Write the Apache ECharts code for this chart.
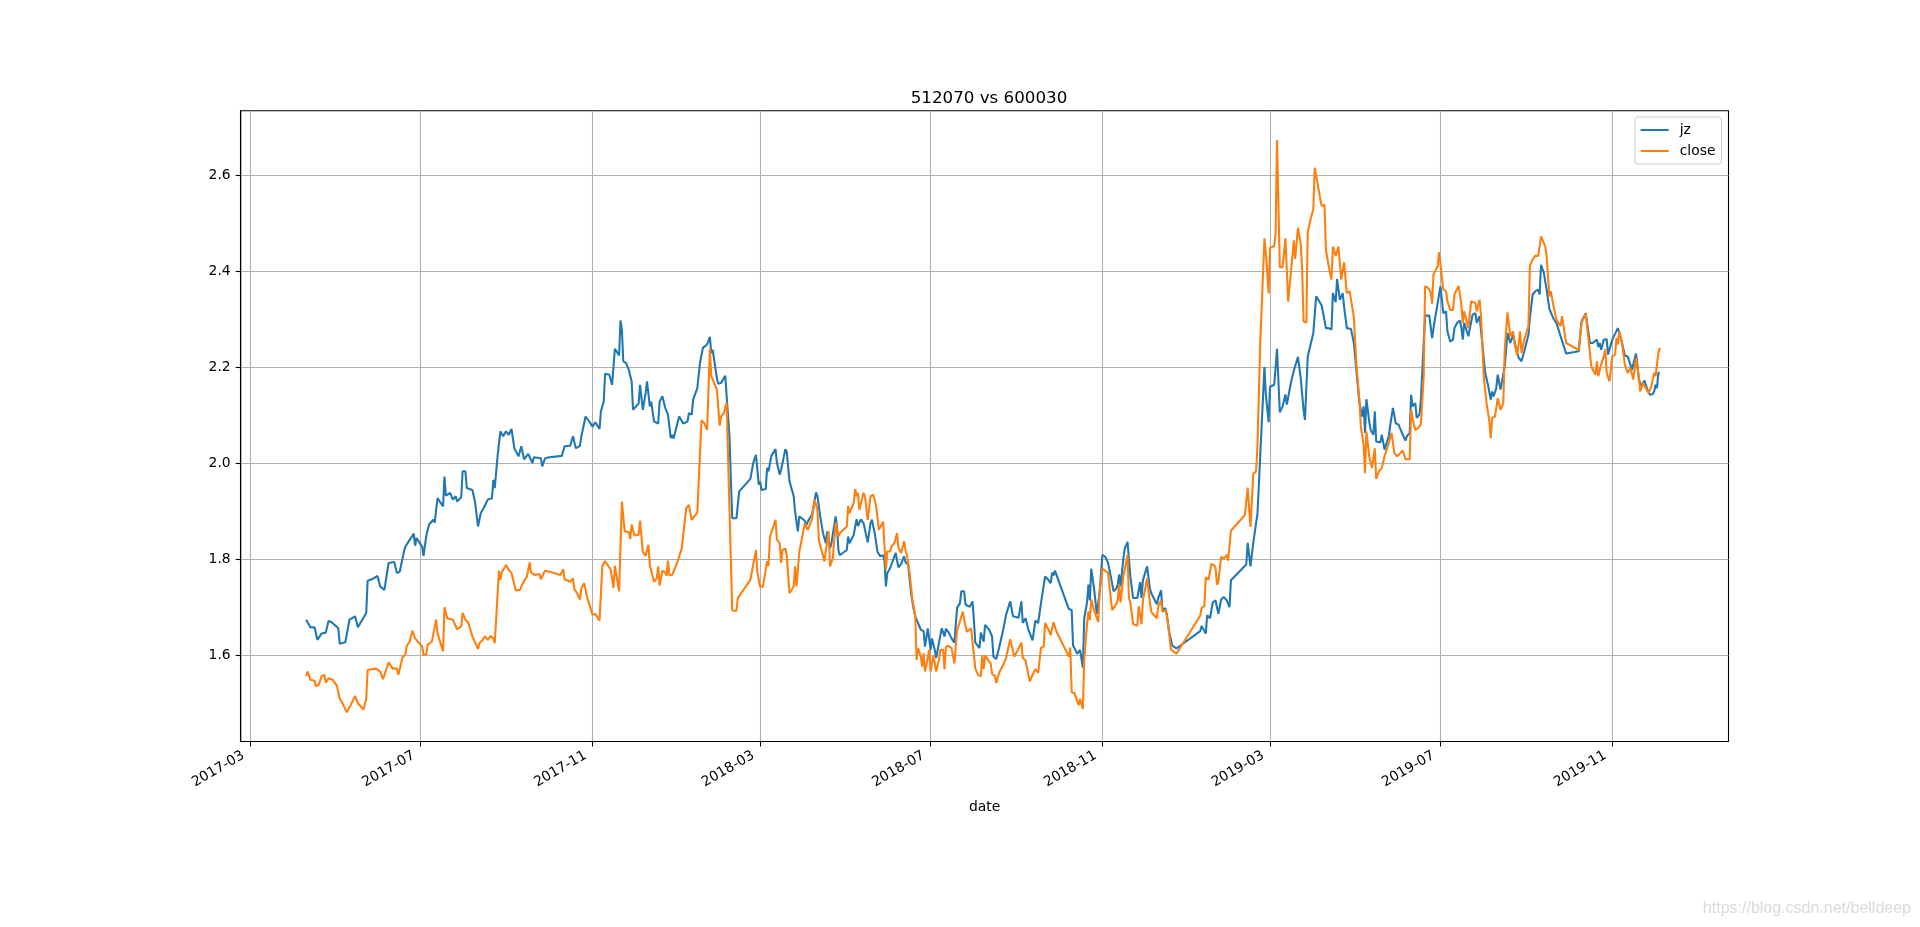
<!DOCTYPE html>
<html>
<head>
<meta charset="utf-8">
<title>512070 vs 600030</title>
<script src="https://cdn.jsdelivr.net/npm/echarts@6/dist/echarts.min.js"></script>
<style>
  html, body { margin: 0; padding: 0; background: #fff; }
  #main { width: 1920px; height: 927px; }
</style>
</head>
<body>
<div id="main"></div>
<script>
// jz (net value), [date, value]
var jz = [
  ['2017-04-10', 1.674], ['2017-04-11', 1.678], ['2017-04-13', 1.658], ['2017-04-16', 1.658], ['2017-04-18', 1.632],
  ['2017-04-19', 1.630], ['2017-04-21', 1.645], ['2017-04-24', 1.647], ['2017-04-26', 1.671], ['2017-04-28', 1.669],
  ['2017-05-03', 1.656], ['2017-05-04', 1.624], ['2017-05-08', 1.627], ['2017-05-11', 1.674], ['2017-05-15', 1.681],
  ['2017-05-17', 1.658], ['2017-05-23', 1.688], ['2017-05-24', 1.755], ['2017-05-27', 1.758], ['2017-05-31', 1.765],
  ['2017-06-02', 1.743], ['2017-06-05', 1.736], ['2017-06-08', 1.792], ['2017-06-12', 1.794], ['2017-06-14', 1.771],
  ['2017-06-16', 1.774], ['2017-06-19', 1.816], ['2017-06-20', 1.826], ['2017-06-26', 1.853], ['2017-06-27', 1.828],
  ['2017-06-28', 1.844], ['2017-07-02', 1.826], ['2017-07-03', 1.807], ['2017-07-05', 1.849], ['2017-07-07', 1.872],
  ['2017-07-10', 1.882], ['2017-07-11', 1.876], ['2017-07-13', 1.927], ['2017-07-17', 1.910], ['2017-07-18', 1.972],
  ['2017-07-19', 1.932], ['2017-07-22', 1.938], ['2017-07-24', 1.924], ['2017-07-26', 1.931], ['2017-07-27', 1.920],
  ['2017-07-30', 1.929], ['2017-07-31', 1.983], ['2017-08-02', 1.983], ['2017-08-03', 1.948], ['2017-08-07', 1.944],
  ['2017-08-09', 1.917], ['2017-08-11', 1.868], ['2017-08-13', 1.896], ['2017-08-15', 1.906], ['2017-08-18', 1.924],
  ['2017-08-21', 1.927], ['2017-08-22', 1.965], ['2017-08-23', 1.948], ['2017-08-25', 2.014], ['2017-08-27', 2.066],
  ['2017-08-29', 2.056], ['2017-08-31', 2.066], ['2017-09-02', 2.059], ['2017-09-04', 2.071], ['2017-09-06', 2.031],
  ['2017-09-09', 2.014], ['2017-09-11', 2.035], ['2017-09-13', 2.008], ['2017-09-16', 2.019], ['2017-09-19', 2.000],
  ['2017-09-20', 2.012], ['2017-09-25', 2.010], ['2017-09-26', 1.993], ['2017-09-28', 2.010], ['2017-10-01', 2.012],
  ['2017-10-10', 2.015], ['2017-10-12', 2.035], ['2017-10-16', 2.036], ['2017-10-18', 2.056], ['2017-10-20', 2.031],
  ['2017-10-23', 2.036], ['2017-10-24', 2.056], ['2017-10-27', 2.097], ['2017-10-30', 2.085], ['2017-11-01', 2.076],
  ['2017-11-03', 2.085], ['2017-11-06', 2.071], ['2017-11-07', 2.108], ['2017-11-09', 2.128], ['2017-11-10', 2.186],
  ['2017-11-13', 2.184], ['2017-11-15', 2.163], ['2017-11-17', 2.238], ['2017-11-20', 2.224], ['2017-11-21', 2.297],
  ['2017-11-22', 2.278], ['2017-11-23', 2.212], ['2017-11-25', 2.208], ['2017-11-27', 2.194], ['2017-11-29', 2.170],
  ['2017-11-30', 2.111], ['2017-12-04', 2.124], ['2017-12-05', 2.163], ['2017-12-07', 2.111], ['2017-12-09', 2.146],
  ['2017-12-10', 2.170], ['2017-12-12', 2.118], ['2017-12-13', 2.128], ['2017-12-15', 2.087], ['2017-12-18', 2.082],
  ['2017-12-19', 2.128], ['2017-12-20', 2.125], ['2017-12-21', 2.139], ['2017-12-23', 2.115], ['2017-12-25', 2.101],
  ['2017-12-27', 2.052], ['2017-12-28', 2.059], ['2017-12-29', 2.051], ['2018-01-02', 2.097], ['2018-01-05', 2.082],
  ['2018-01-08', 2.087], ['2018-01-09', 2.104], ['2018-01-11', 2.101], ['2018-01-12', 2.132], ['2018-01-15', 2.156],
  ['2018-01-17', 2.210], ['2018-01-19', 2.240], ['2018-01-22', 2.247], ['2018-01-24', 2.263], ['2018-01-25', 2.229],
  ['2018-01-26', 2.236], ['2018-01-29', 2.177], ['2018-01-30', 2.165], ['2018-02-01', 2.167], ['2018-02-04', 2.182],
  ['2018-02-05', 2.184], ['2018-02-07', 2.056], ['2018-02-09', 1.885], ['2018-02-12', 1.885], ['2018-02-14', 1.941],
  ['2018-02-22', 1.967], ['2018-02-24', 2.000], ['2018-02-26', 2.017], ['2018-02-28', 1.955], ['2018-03-01', 1.962],
  ['2018-03-02', 1.944], ['2018-03-05', 1.946], ['2018-03-06', 1.990], ['2018-03-07', 1.983], ['2018-03-09', 2.015],
  ['2018-03-12', 2.029], ['2018-03-13', 2.000], ['2018-03-15', 1.976], ['2018-03-16', 1.986], ['2018-03-17', 2.000],
  ['2018-03-19', 2.029], ['2018-03-20', 2.024], ['2018-03-22', 1.962], ['2018-03-25', 1.931], ['2018-03-26', 1.899],
  ['2018-03-27', 1.903], ['2018-03-28', 1.858], ['2018-03-29', 1.889], ['2018-04-02', 1.880], ['2018-04-03', 1.871],
  ['2018-04-05', 1.883], ['2018-04-07', 1.892], ['2018-04-08', 1.906], ['2018-04-10', 1.939], ['2018-04-11', 1.931],
  ['2018-04-13', 1.889], ['2018-04-15', 1.854], ['2018-04-17', 1.833], ['2018-04-18', 1.858], ['2018-04-20', 1.823],
  ['2018-04-21', 1.833], ['2018-04-24', 1.889], ['2018-04-25', 1.868], ['2018-04-26', 1.819], ['2018-04-27', 1.808],
  ['2018-05-02', 1.819], ['2018-05-03', 1.847], ['2018-05-04', 1.833], ['2018-05-07', 1.851], ['2018-05-09', 1.883],
  ['2018-05-10', 1.869], ['2018-05-12', 1.883], ['2018-05-14', 1.875], ['2018-05-17', 1.835], ['2018-05-19', 1.875],
  ['2018-05-20', 1.882], ['2018-05-22', 1.854], ['2018-05-24', 1.815], ['2018-05-26', 1.806], ['2018-05-28', 1.808],
  ['2018-05-29', 1.797], ['2018-05-30', 1.743], ['2018-05-31', 1.771], ['2018-06-02', 1.781], ['2018-06-06', 1.813],
  ['2018-06-07', 1.797], ['2018-06-08', 1.783], ['2018-06-10', 1.790], ['2018-06-12', 1.806], ['2018-06-13', 1.794],
  ['2018-06-15', 1.788], ['2018-06-17', 1.729], ['2018-06-19', 1.694], ['2018-06-20', 1.681], ['2018-06-21', 1.677],
  ['2018-06-24', 1.653], ['2018-06-26', 1.650], ['2018-06-27', 1.618], ['2018-06-28', 1.618], ['2018-06-29', 1.656],
  ['2018-07-01', 1.611], ['2018-07-02', 1.635], ['2018-07-04', 1.611], ['2018-07-05', 1.594], ['2018-07-07', 1.626],
  ['2018-07-09', 1.656], ['2018-07-11', 1.639], ['2018-07-12', 1.655], ['2018-07-14', 1.647], ['2018-07-16', 1.635],
  ['2018-07-18', 1.626], ['2018-07-20', 1.699], ['2018-07-22', 1.708], ['2018-07-23', 1.733], ['2018-07-25', 1.733],
  ['2018-07-26', 1.705], ['2018-07-29', 1.701], ['2018-07-31', 1.712], ['2018-08-01', 1.674], ['2018-08-02', 1.626],
  ['2018-08-05', 1.615], ['2018-08-06', 1.647], ['2018-08-08', 1.628], ['2018-08-09', 1.663], ['2018-08-12', 1.653],
  ['2018-08-14', 1.639], ['2018-08-15', 1.597], ['2018-08-17', 1.592], ['2018-08-19', 1.615], ['2018-08-22', 1.653],
  ['2018-08-24', 1.684], ['2018-08-27', 1.712], ['2018-08-29', 1.681], ['2018-09-02', 1.678], ['2018-09-04', 1.712],
  ['2018-09-05', 1.667], ['2018-09-07', 1.677], ['2018-09-09', 1.653], ['2018-09-12', 1.631], ['2018-09-14', 1.672],
  ['2018-09-16', 1.667], ['2018-09-18', 1.708], ['2018-09-19', 1.710], ['2018-09-21', 1.764], ['2018-09-23', 1.758],
  ['2018-09-25', 1.750], ['2018-09-26', 1.772], ['2018-09-27', 1.766], ['2018-09-28', 1.776], ['2018-10-08', 1.696],
  ['2018-10-10', 1.694], ['2018-10-11', 1.620], ['2018-10-12', 1.616], ['2018-10-14', 1.603], ['2018-10-15', 1.599],
  ['2018-10-16', 1.611], ['2018-10-18', 1.574], ['2018-10-19', 1.677], ['2018-10-21', 1.710], ['2018-10-22', 1.747],
  ['2018-10-23', 1.714], ['2018-10-24', 1.780], ['2018-10-26', 1.739], ['2018-10-28', 1.686], ['2018-10-30', 1.731],
  ['2018-11-01', 1.809], ['2018-11-03', 1.805], ['2018-11-05', 1.793], ['2018-11-07', 1.764], ['2018-11-09', 1.733],
  ['2018-11-11', 1.739], ['2018-11-12', 1.747], ['2018-11-13', 1.768], ['2018-11-14', 1.743], ['2018-11-16', 1.801],
  ['2018-11-17', 1.822], ['2018-11-19', 1.836], ['2018-11-21', 1.764], ['2018-11-23', 1.719], ['2018-11-26', 1.719],
  ['2018-11-28', 1.752], ['2018-11-29', 1.719], ['2018-11-30', 1.756], ['2018-12-03', 1.785], ['2018-12-05', 1.739],
  ['2018-12-06', 1.729], ['2018-12-10', 1.706], ['2018-12-11', 1.719], ['2018-12-13', 1.735], ['2018-12-14', 1.694],
  ['2018-12-16', 1.698], ['2018-12-17', 1.686], ['2018-12-19', 1.645], ['2018-12-21', 1.620], ['2018-12-24', 1.614],
  ['2019-01-10', 1.650], ['2019-01-11', 1.661], ['2019-01-14', 1.645], ['2019-01-15', 1.683], ['2019-01-17', 1.677],
  ['2019-01-19', 1.710], ['2019-01-21', 1.714], ['2019-01-23', 1.686], ['2019-01-25', 1.716], ['2019-01-27', 1.721],
  ['2019-01-29', 1.714], ['2019-01-31', 1.700], ['2019-02-01', 1.756], ['2019-02-12', 1.789], ['2019-02-13', 1.834],
  ['2019-02-15', 1.785], ['2019-02-17', 1.834], ['2019-02-19', 1.875], ['2019-02-20', 1.894], ['2019-02-21', 1.897],
  ['2019-02-25', 2.200], ['2019-02-26', 2.143], ['2019-02-28', 2.085], ['2019-03-01', 2.159], ['2019-03-04', 2.163],
  ['2019-03-05', 2.159], ['2019-03-06', 2.238], ['2019-03-07', 2.238], ['2019-03-08', 2.106], ['2019-03-10', 2.118],
  ['2019-03-12', 2.143], ['2019-03-13', 2.122], ['2019-03-16', 2.168], ['2019-03-18', 2.192], ['2019-03-19', 2.188],
  ['2019-03-21', 2.221], ['2019-03-23', 2.176], ['2019-03-25', 2.111], ['2019-03-26', 2.090], ['2019-03-27', 2.094],
  ['2019-03-28', 2.222], ['2019-04-01', 2.271], ['2019-04-03', 2.347], ['2019-04-05', 2.338], ['2019-04-07', 2.328],
  ['2019-04-08', 2.326], ['2019-04-10', 2.281], ['2019-04-12', 2.281], ['2019-04-14', 2.278], ['2019-04-15', 2.354],
  ['2019-04-17', 2.335], ['2019-04-18', 2.383], ['2019-04-20', 2.340], ['2019-04-22', 2.354], ['2019-04-23', 2.326],
  ['2019-04-25', 2.281], ['2019-04-28', 2.279], ['2019-04-30', 2.250], ['2019-05-02', 2.188], ['2019-05-04', 2.125],
  ['2019-05-06', 2.097], ['2019-05-07', 2.118], ['2019-05-08', 2.063], ['2019-05-09', 2.133], ['2019-05-11', 2.087],
  ['2019-05-12', 2.069], ['2019-05-14', 2.059], ['2019-05-15', 2.108], ['2019-05-16', 2.045], ['2019-05-19', 2.043],
  ['2019-05-20', 2.059], ['2019-05-22', 2.028], ['2019-05-25', 2.056], ['2019-05-26', 2.078], ['2019-05-28', 2.115],
  ['2019-05-30', 2.083], ['2019-06-01', 2.080], ['2019-06-03', 2.066], ['2019-06-04', 2.059], ['2019-06-06', 2.047],
  ['2019-06-07', 2.056], ['2019-06-09', 2.063], ['2019-06-10', 2.142], ['2019-06-11', 2.118], ['2019-06-13', 2.125],
  ['2019-06-14', 2.094], ['2019-06-16', 2.101], ['2019-06-17', 2.132], ['2019-06-20', 2.307], ['2019-06-23', 2.307],
  ['2019-06-25', 2.260], ['2019-06-27', 2.299], ['2019-06-28', 2.316], ['2019-07-01', 2.368], ['2019-07-02', 2.340],
  ['2019-07-03', 2.312], ['2019-07-05', 2.316], ['2019-07-06', 2.274], ['2019-07-08', 2.253], ['2019-07-10', 2.257],
  ['2019-07-11', 2.281], ['2019-07-13', 2.292], ['2019-07-15', 2.297], ['2019-07-16', 2.281], ['2019-07-17', 2.257],
  ['2019-07-18', 2.292], ['2019-07-21', 2.264], ['2019-07-22', 2.267], ['2019-07-24', 2.309], ['2019-07-26', 2.312],
  ['2019-07-27', 2.292], ['2019-07-29', 2.306], ['2019-07-30', 2.278], ['2019-08-02', 2.188], ['2019-08-04', 2.163],
  ['2019-08-06', 2.132], ['2019-08-07', 2.149], ['2019-08-08', 2.139], ['2019-08-10', 2.156], ['2019-08-11', 2.184],
  ['2019-08-13', 2.153], ['2019-08-14', 2.154], ['2019-08-16', 2.201], ['2019-08-18', 2.271], ['2019-08-20', 2.250],
  ['2019-08-22', 2.267], ['2019-08-24', 2.240], ['2019-08-26', 2.219], ['2019-08-28', 2.212], ['2019-08-30', 2.233],
  ['2019-09-02', 2.267], ['2019-09-03', 2.302], ['2019-09-05', 2.351], ['2019-09-07', 2.358], ['2019-09-09', 2.361],
  ['2019-09-10', 2.351], ['2019-09-11', 2.413], ['2019-09-13', 2.396], ['2019-09-15', 2.361], ['2019-09-17', 2.321],
  ['2019-09-18', 2.319], ['2019-09-20', 2.300], ['2019-09-22', 2.292], ['2019-09-23', 2.288], ['2019-09-25', 2.264],
  ['2019-09-26', 2.267], ['2019-09-29', 2.228], ['2019-10-08', 2.233], ['2019-10-10', 2.295], ['2019-10-13', 2.312],
  ['2019-10-14', 2.292], ['2019-10-16', 2.250], ['2019-10-18', 2.250], ['2019-10-21', 2.257], ['2019-10-22', 2.242],
  ['2019-10-23', 2.250], ['2019-10-24', 2.236], ['2019-10-26', 2.257], ['2019-10-28', 2.258], ['2019-10-29', 2.226],
  ['2019-10-30', 2.222], ['2019-11-01', 2.257], ['2019-11-03', 2.269], ['2019-11-05', 2.281], ['2019-11-06', 2.272],
  ['2019-11-08', 2.250], ['2019-11-10', 2.224], ['2019-11-12', 2.222], ['2019-11-14', 2.205], ['2019-11-15', 2.194],
  ['2019-11-18', 2.228], ['2019-11-19', 2.205], ['2019-11-20', 2.174], ['2019-11-22', 2.160], ['2019-11-24', 2.172],
  ['2019-11-26', 2.154], ['2019-11-28', 2.142], ['2019-11-30', 2.144], ['2019-12-01', 2.149], ['2019-12-02', 2.163],
  ['2019-12-03', 2.156], ['2019-12-04', 2.188], ['2019-12-05', 2.188]
];

// close (600030 close, scaled), [date, value]
var close = [
  ['2017-04-10', 1.556], ['2017-04-11', 1.566], ['2017-04-13', 1.549], ['2017-04-16', 1.547], ['2017-04-17', 1.535],
  ['2017-04-19', 1.538], ['2017-04-21', 1.556], ['2017-04-23', 1.559], ['2017-04-24', 1.543], ['2017-04-26', 1.552],
  ['2017-04-29', 1.549], ['2017-05-02', 1.536], ['2017-05-04', 1.510], ['2017-05-06', 1.500], ['2017-05-09', 1.481],
  ['2017-05-12', 1.497], ['2017-05-15', 1.515], ['2017-05-17', 1.500], ['2017-05-18', 1.503], ['2017-05-21', 1.487],
  ['2017-05-23', 1.510], ['2017-05-24', 1.569], ['2017-05-30', 1.572], ['2017-06-02', 1.566], ['2017-06-04', 1.550],
  ['2017-06-08', 1.585], ['2017-06-11', 1.572], ['2017-06-12', 1.568], ['2017-06-14', 1.572], ['2017-06-15', 1.559],
  ['2017-06-18', 1.596], ['2017-06-20', 1.601], ['2017-06-21', 1.619], ['2017-06-23', 1.628], ['2017-06-25', 1.651],
  ['2017-06-27', 1.635], ['2017-06-28', 1.633], ['2017-07-02', 1.618], ['2017-07-03', 1.601], ['2017-07-05', 1.602],
  ['2017-07-06', 1.622], ['2017-07-09', 1.628], ['2017-07-12', 1.674], ['2017-07-13', 1.646], ['2017-07-17', 1.608],
  ['2017-07-18', 1.700], ['2017-07-20', 1.677], ['2017-07-24', 1.674], ['2017-07-25', 1.675], ['2017-07-27', 1.654],
  ['2017-07-30', 1.660], ['2017-07-31', 1.688], ['2017-08-02', 1.674], ['2017-08-04', 1.668], ['2017-08-07', 1.639],
  ['2017-08-08', 1.638], ['2017-08-11', 1.613], ['2017-08-12', 1.625], ['2017-08-14', 1.631], ['2017-08-16', 1.639],
  ['2017-08-18', 1.632], ['2017-08-20', 1.640], ['2017-08-22', 1.635], ['2017-08-23', 1.625], ['2017-08-26', 1.776],
  ['2017-08-27', 1.757], ['2017-08-28', 1.772], ['2017-08-31', 1.788], ['2017-09-02', 1.778], ['2017-09-04', 1.771],
  ['2017-09-07', 1.735], ['2017-09-10', 1.736], ['2017-09-12', 1.749], ['2017-09-15', 1.764], ['2017-09-17', 1.793],
  ['2017-09-18', 1.772], ['2017-09-21', 1.767], ['2017-09-24', 1.769], ['2017-09-25', 1.758], ['2017-09-28', 1.776],
  ['2017-10-01', 1.774], ['2017-10-09', 1.767], ['2017-10-11', 1.779], ['2017-10-12', 1.758], ['2017-10-16', 1.753],
  ['2017-10-18', 1.760], ['2017-10-19', 1.737], ['2017-10-21', 1.729], ['2017-10-23', 1.716], ['2017-10-24', 1.740],
  ['2017-10-26', 1.750], ['2017-10-28', 1.722], ['2017-11-01', 1.684], ['2017-11-03', 1.686], ['2017-11-06', 1.672],
  ['2017-11-08', 1.785], ['2017-11-10', 1.796], ['2017-11-14', 1.778], ['2017-11-16', 1.740], ['2017-11-17', 1.786],
  ['2017-11-20', 1.733], ['2017-11-22', 1.920], ['2017-11-24', 1.858], ['2017-11-27', 1.856], ['2017-11-28', 1.842],
  ['2017-11-29', 1.872], ['2017-12-01', 1.849], ['2017-12-04', 1.851], ['2017-12-05', 1.880], ['2017-12-06', 1.880],
  ['2017-12-07', 1.815], ['2017-12-09', 1.807], ['2017-12-11', 1.830], ['2017-12-12', 1.788], ['2017-12-13', 1.785],
  ['2017-12-15', 1.753], ['2017-12-17', 1.760], ['2017-12-18', 1.785], ['2017-12-19', 1.745], ['2017-12-21', 1.776],
  ['2017-12-23', 1.772], ['2017-12-24', 1.765], ['2017-12-25', 1.797], ['2017-12-26', 1.767], ['2017-12-28', 1.767],
  ['2018-01-01', 1.796], ['2018-01-04', 1.824], ['2018-01-07', 1.906], ['2018-01-09', 1.913], ['2018-01-10', 1.913],
  ['2018-01-11', 1.882], ['2018-01-15', 1.897], ['2018-01-18', 2.089], ['2018-01-20', 2.083], ['2018-01-22', 2.069],
  ['2018-01-23', 2.069], ['2018-01-24', 2.238], ['2018-01-25', 2.181], ['2018-01-28', 2.160], ['2018-01-29', 2.153],
  ['2018-01-31', 2.078], ['2018-02-01', 2.097], ['2018-02-03', 2.104], ['2018-02-05', 2.126], ['2018-02-06', 2.014],
  ['2018-02-09', 1.693], ['2018-02-12', 1.692], ['2018-02-13', 1.719], ['2018-02-22', 1.757], ['2018-02-26', 1.819],
  ['2018-02-27', 1.772], ['2018-03-01', 1.742], ['2018-03-02', 1.743], ['2018-03-03', 1.743], ['2018-03-06', 1.796],
  ['2018-03-07', 1.786], ['2018-03-08', 1.846], ['2018-03-12', 1.882], ['2018-03-13', 1.840], ['2018-03-15', 1.833],
  ['2018-03-16', 1.792], ['2018-03-17', 1.819], ['2018-03-19', 1.822], ['2018-03-20', 1.808], ['2018-03-22', 1.729],
  ['2018-03-25', 1.743], ['2018-03-26', 1.785], ['2018-03-27', 1.743], ['2018-03-29', 1.815], ['2018-04-02', 1.875],
  ['2018-04-04', 1.861], ['2018-04-07', 1.882], ['2018-04-09', 1.924], ['2018-04-11', 1.903], ['2018-04-12', 1.840],
  ['2018-04-16', 1.795], ['2018-04-17', 1.799], ['2018-04-19', 1.858], ['2018-04-20', 1.785], ['2018-04-22', 1.802],
  ['2018-04-24', 1.876], ['2018-04-26', 1.847], ['2018-04-27', 1.854], ['2018-05-02', 1.868], ['2018-05-03', 1.911],
  ['2018-05-04', 1.896], ['2018-05-07', 1.917], ['2018-05-08', 1.946], ['2018-05-09', 1.931], ['2018-05-10', 1.938],
  ['2018-05-11', 1.903], ['2018-05-14', 1.938], ['2018-05-15', 1.931], ['2018-05-17', 1.882], ['2018-05-19', 1.931],
  ['2018-05-21', 1.934], ['2018-05-23', 1.911], ['2018-05-25', 1.861], ['2018-05-26', 1.865], ['2018-05-28', 1.878],
  ['2018-05-30', 1.778], ['2018-05-31', 1.816], ['2018-06-02', 1.816], ['2018-06-03', 1.826], ['2018-06-05', 1.833],
  ['2018-06-07', 1.854], ['2018-06-08', 1.823], ['2018-06-10', 1.813], ['2018-06-12', 1.837], ['2018-06-13', 1.819],
  ['2018-06-14', 1.809], ['2018-06-16', 1.771], ['2018-06-18', 1.715], ['2018-06-20', 1.681], ['2018-06-21', 1.590],
  ['2018-06-22', 1.615], ['2018-06-24', 1.597], ['2018-06-25', 1.576], ['2018-06-26', 1.604], ['2018-06-27', 1.566],
  ['2018-06-28', 1.580], ['2018-06-30', 1.611], ['2018-07-01', 1.566], ['2018-07-03', 1.599], ['2018-07-05', 1.566],
  ['2018-07-07', 1.590], ['2018-07-08', 1.611], ['2018-07-10', 1.611], ['2018-07-11', 1.571], ['2018-07-12', 1.618],
  ['2018-07-14', 1.619], ['2018-07-16', 1.615], ['2018-07-18', 1.583], ['2018-07-20', 1.653], ['2018-07-22', 1.670],
  ['2018-07-24', 1.691], ['2018-07-25', 1.674], ['2018-07-27', 1.649], ['2018-07-30', 1.656], ['2018-08-02', 1.573],
  ['2018-08-04', 1.559], ['2018-08-06', 1.556], ['2018-08-07', 1.599], ['2018-08-08', 1.571], ['2018-08-09', 1.599],
  ['2018-08-13', 1.583], ['2018-08-14', 1.561], ['2018-08-16', 1.557], ['2018-08-17', 1.542], ['2018-08-19', 1.563],
  ['2018-08-22', 1.580], ['2018-08-24', 1.594], ['2018-08-27', 1.633], ['2018-08-30', 1.597], ['2018-09-01', 1.608],
  ['2018-09-04', 1.626], ['2018-09-05', 1.594], ['2018-09-07', 1.589], ['2018-09-10', 1.545], ['2018-09-12', 1.559],
  ['2018-09-14', 1.571], ['2018-09-16', 1.563], ['2018-09-18', 1.615], ['2018-09-20', 1.618], ['2018-09-21', 1.667],
  ['2018-09-24', 1.649], ['2018-09-25', 1.642], ['2018-09-26', 1.655], ['2018-09-27', 1.669], ['2018-09-29', 1.650],
  ['2018-10-08', 1.597], ['2018-10-09', 1.616], ['2018-10-10', 1.523], ['2018-10-12', 1.521], ['2018-10-14', 1.504],
  ['2018-10-15', 1.496], ['2018-10-16', 1.509], ['2018-10-18', 1.488], ['2018-10-19', 1.591], ['2018-10-21', 1.665],
  ['2018-10-22', 1.691], ['2018-10-23', 1.673], ['2018-10-24', 1.716], ['2018-10-26', 1.694], ['2018-10-27', 1.686],
  ['2018-10-29', 1.669], ['2018-10-30', 1.731], ['2018-10-31', 1.729], ['2018-11-01', 1.780], ['2018-11-05', 1.772],
  ['2018-11-07', 1.719], ['2018-11-08', 1.694], ['2018-11-10', 1.702], ['2018-11-12', 1.714], ['2018-11-13', 1.747],
  ['2018-11-14', 1.710], ['2018-11-16', 1.764], ['2018-11-19', 1.809], ['2018-11-20', 1.719], ['2018-11-21', 1.710],
  ['2018-11-23', 1.665], ['2018-11-26', 1.661], ['2018-11-27', 1.702], ['2018-11-29', 1.665], ['2018-11-30', 1.714],
  ['2018-12-03', 1.760], ['2018-12-05', 1.710], ['2018-12-06', 1.690], ['2018-12-10', 1.677], ['2018-12-11', 1.702],
  ['2018-12-13', 1.714], ['2018-12-14', 1.690], ['2018-12-16', 1.694], ['2018-12-17', 1.686], ['2018-12-19', 1.640],
  ['2018-12-20', 1.612], ['2018-12-24', 1.603], ['2019-01-10', 1.682], ['2019-01-11', 1.698], ['2019-01-13', 1.702],
  ['2019-01-14', 1.762], ['2019-01-16', 1.757], ['2019-01-18', 1.790], ['2019-01-20', 1.787], ['2019-01-21', 1.782],
  ['2019-01-22', 1.747], ['2019-01-23', 1.752], ['2019-01-25', 1.805], ['2019-01-27', 1.801], ['2019-01-29', 1.809],
  ['2019-01-30', 1.797], ['2019-02-01', 1.859], ['2019-02-11', 1.892], ['2019-02-13', 1.949], ['2019-02-15', 1.867],
  ['2019-02-17', 1.978], ['2019-02-19', 1.982], ['2019-02-20', 2.036], ['2019-02-22', 2.250], ['2019-02-25', 2.468],
  ['2019-02-26', 2.439], ['2019-02-28', 2.353], ['2019-03-01', 2.448], ['2019-03-04', 2.452], ['2019-03-05', 2.481],
  ['2019-03-06', 2.672], ['2019-03-07', 2.674], ['2019-03-08', 2.408], ['2019-03-10', 2.408], ['2019-03-12', 2.468],
  ['2019-03-14', 2.336], ['2019-03-16', 2.398], ['2019-03-18', 2.464], ['2019-03-19', 2.425], ['2019-03-21', 2.490],
  ['2019-03-23', 2.456], ['2019-03-24', 2.403], ['2019-03-25', 2.295], ['2019-03-27', 2.292], ['2019-03-28', 2.481],
  ['2019-03-30', 2.507], ['2019-04-01', 2.529], ['2019-04-02', 2.615], ['2019-04-04', 2.583], ['2019-04-06', 2.549],
  ['2019-04-07', 2.535], ['2019-04-09', 2.538], ['2019-04-10', 2.444], ['2019-04-12', 2.410], ['2019-04-14', 2.382],
  ['2019-04-15', 2.451], ['2019-04-17', 2.431], ['2019-04-19', 2.451], ['2019-04-21', 2.382], ['2019-04-23', 2.418],
  ['2019-04-25', 2.354], ['2019-04-27', 2.358], ['2019-04-30', 2.304], ['2019-05-02', 2.198], ['2019-05-04', 2.132],
  ['2019-05-05', 2.076], ['2019-05-07', 2.038], ['2019-05-08', 1.979], ['2019-05-09', 2.066], ['2019-05-11', 2.014],
  ['2019-05-13', 1.990], ['2019-05-15', 2.031], ['2019-05-16', 1.967], ['2019-05-18', 1.983], ['2019-05-20', 1.990],
  ['2019-05-22', 2.014], ['2019-05-25', 2.042], ['2019-05-27', 2.063], ['2019-05-29', 2.021], ['2019-05-31', 2.014],
  ['2019-06-01', 2.017], ['2019-06-04', 2.026], ['2019-06-06', 2.008], ['2019-06-09', 2.008], ['2019-06-10', 2.111],
  ['2019-06-12', 2.080], ['2019-06-13', 2.069], ['2019-06-15', 2.073], ['2019-06-17', 2.080], ['2019-06-19', 2.181],
  ['2019-06-20', 2.368], ['2019-06-22', 2.365], ['2019-06-24', 2.356], ['2019-06-25', 2.332], ['2019-06-26', 2.392],
  ['2019-06-27', 2.390], ['2019-06-29', 2.410], ['2019-06-30', 2.439], ['2019-07-02', 2.389], ['2019-07-03', 2.361],
  ['2019-07-05', 2.358], ['2019-07-06', 2.337], ['2019-07-08', 2.319], ['2019-07-10', 2.319], ['2019-07-11', 2.351],
  ['2019-07-14', 2.369], ['2019-07-16', 2.330], ['2019-07-17', 2.292], ['2019-07-18', 2.316], ['2019-07-21', 2.281],
  ['2019-07-23', 2.337], ['2019-07-24', 2.340], ['2019-07-26', 2.333], ['2019-07-27', 2.316], ['2019-07-29', 2.340],
  ['2019-07-30', 2.309], ['2019-08-01', 2.181], ['2019-08-03', 2.125], ['2019-08-05', 2.087], ['2019-08-06', 2.052],
  ['2019-08-07', 2.094], ['2019-08-09', 2.097], ['2019-08-10', 2.115], ['2019-08-11', 2.135], ['2019-08-13', 2.111],
  ['2019-08-15', 2.125], ['2019-08-16', 2.236], ['2019-08-18', 2.314], ['2019-08-20', 2.264], ['2019-08-22', 2.274],
  ['2019-08-23', 2.250], ['2019-08-25', 2.224], ['2019-08-27', 2.274], ['2019-08-28', 2.229], ['2019-08-30', 2.257],
  ['2019-09-02', 2.285], ['2019-09-03', 2.410], ['2019-09-05', 2.424], ['2019-09-07', 2.432], ['2019-09-09', 2.431],
  ['2019-09-11', 2.472], ['2019-09-14', 2.451], ['2019-09-15', 2.431], ['2019-09-17', 2.347], ['2019-09-18', 2.358],
  ['2019-09-20', 2.326], ['2019-09-22', 2.299], ['2019-09-25', 2.285], ['2019-09-26', 2.306], ['2019-09-29', 2.250],
  ['2019-10-08', 2.235], ['2019-10-10', 2.292], ['2019-10-13', 2.311], ['2019-10-15', 2.257], ['2019-10-17', 2.201],
  ['2019-10-20', 2.184], ['2019-10-21', 2.212], ['2019-10-22', 2.181], ['2019-10-24', 2.205], ['2019-10-26', 2.222],
  ['2019-10-27', 2.237], ['2019-10-28', 2.188], ['2019-10-30', 2.170], ['2019-11-01', 2.222], ['2019-11-03', 2.226],
  ['2019-11-04', 2.260], ['2019-11-05', 2.247], ['2019-11-06', 2.274], ['2019-11-08', 2.250], ['2019-11-10', 2.205],
  ['2019-11-12', 2.188], ['2019-11-14', 2.198], ['2019-11-16', 2.174], ['2019-11-18', 2.219], ['2019-11-20', 2.181],
  ['2019-11-21', 2.149], ['2019-11-23', 2.167], ['2019-11-25', 2.156], ['2019-11-27', 2.146], ['2019-11-29', 2.160],
  ['2019-11-30', 2.174], ['2019-12-01', 2.188], ['2019-12-02', 2.181], ['2019-12-04', 2.229], ['2019-12-05', 2.240]
];

// tick positions
var xTicks = ['2017-03-01', '2017-07-01', '2017-11-01', '2018-03-01', '2018-07-01', '2018-11-01', '2019-03-01', '2019-07-01', '2019-11-01'];
var yTicks = [1.6, 1.8, 2.0, 2.2, 2.4, 2.6];

// date string -> local timestamp, so the x axis can be a plain value scale
function ts(s) { return +echarts.time.parse(s); }
var xTickValues = xTicks.map(ts);

var FONT = 'DejaVu Sans';
var myChart = echarts.init(document.getElementById('main'));

option = {
  animation: false,
  backgroundColor: '#fff',
  title: {
    text: '512070 vs 600030',
    left: 984,
    top: 85,
    textAlign: 'center',
    textStyle: { fontFamily: FONT, fontSize: 16.7, fontWeight: 'normal', color: '#000' }
  },
  legend: {
    orient: 'vertical',
    left: 1635,
    top: 117,
    padding: [5, 6, 5, 5.7],
    itemGap: 5,
    itemWidth: 28,
    itemHeight: 2,
    borderColor: '#cccccc',
    borderWidth: 1,
    borderRadius: 3,
    backgroundColor: 'rgba(255,255,255,0.8)',
    textStyle: { fontFamily: FONT, fontSize: 13.9, color: '#000', lineHeight: 16, padding: [0, 0, 0, 6] },
    data: [{ name: 'jz', icon: 'rect' }, { name: 'close', icon: 'rect' }]
  },
  grid: {
    left: 240.7,
    right: 191.5,
    top: 110.7,
    bottom: 185.5,
    show: true,
    borderColor: '#000',
    borderWidth: 1.1
  },
  xAxis: {
    type: 'value',
    min: +new Date(2017, 1, 22, 3),
    max: +new Date(2020, 0, 23, 5),
    name: 'date',
    nameLocation: 'middle',
    nameGap: 59,
    nameTextStyle: { fontFamily: FONT, fontSize: 13.9, color: '#000' },
    axisLine: { show: true, lineStyle: { color: '#000', width: 1.1 } },
    axisTick: { show: true, length: 5, customValues: xTickValues, lineStyle: { color: '#000', width: 1.1 } },
    axisLabel: {
      customValues: xTickValues,
      rotate: 30,
      margin: 9,
      padding: [0, 8, 0, 0],
      fontFamily: FONT,
      fontSize: 13.9,
      color: '#000',
      formatter: function (v) { return echarts.time.format(v, '{yyyy}-{MM}', false); }
    },
    splitLine: { show: true, lineStyle: { color: '#b0b0b0', width: 1.1 } }
  },
  yAxis: {
    type: 'value',
    min: 1.4203,
    max: 2.7337,
    axisLine: { show: true, lineStyle: { color: '#000', width: 1.1 } },
    axisTick: { show: true, length: 5, customValues: yTicks, lineStyle: { color: '#000', width: 1.1 } },
    axisLabel: {
      customValues: yTicks,
      margin: 10,
      fontFamily: FONT,
      fontSize: 13.9,
      color: '#000',
      formatter: function (v) { return v.toFixed(1); }
    },
    splitLine: { show: true, lineStyle: { color: '#b0b0b0', width: 1.1 } }
  },
  graphic: [{
    type: 'text',
    right: 9,
    bottom: 10,
    style: { text: 'https://blog.csdn.net/belldeep', fontFamily: 'Liberation Sans', fontSize: 16, fill: '#dadada' }
  }],
  series: [
    {
      name: 'jz',
      type: 'line',
      data: jz.map(function (d) { return [ts(d[0]), d[1]]; }),
      showSymbol: false,
      symbol: 'none',
      color: '#1f77b4',
      lineStyle: { width: 2.08, color: '#1f77b4' }
    },
    {
      name: 'close',
      type: 'line',
      data: close.map(function (d) { return [ts(d[0]), d[1]]; }),
      showSymbol: false,
      symbol: 'none',
      color: '#ff7f0e',
      lineStyle: { width: 2.08, color: '#ff7f0e' }
    }
  ]
};

myChart.setOption(option);
</script>
</body>
</html>
